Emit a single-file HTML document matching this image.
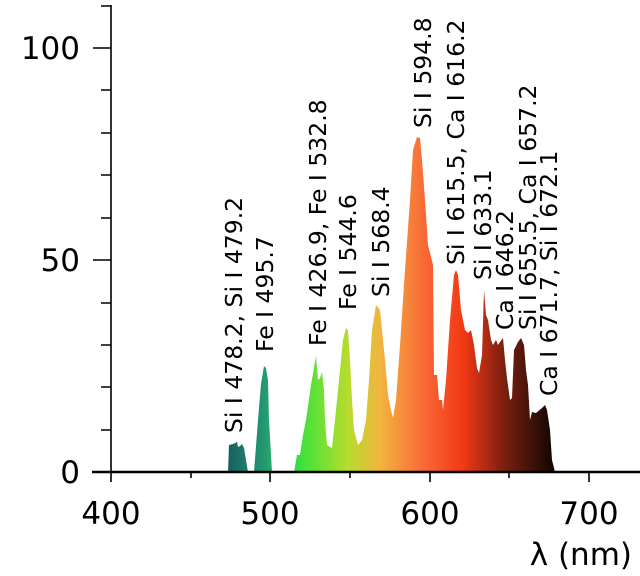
<!DOCTYPE html><html><head><meta charset="utf-8"><style>body{margin:0;background:#fff}svg{display:block}</style></head><body>
<svg width="640" height="576" viewBox="0 0 640 576" xmlns="http://www.w3.org/2000/svg" font-family="DejaVu Sans, Liberation Sans, sans-serif">
<defs><linearGradient id="g" gradientUnits="userSpaceOnUse" x1="225" y1="0" x2="556" y2="0">
<stop offset="0" stop-color="#175a5e"/><stop offset="0.12" stop-color="#239a72"/><stop offset="0.23" stop-color="#3ee23c"/><stop offset="0.37" stop-color="#b6dc2c"/><stop offset="0.47" stop-color="#f2b43e"/><stop offset="0.6" stop-color="#f86a38"/><stop offset="0.72" stop-color="#f23814"/><stop offset="0.84" stop-color="#7e2010"/><stop offset="0.95" stop-color="#2e0e06"/><stop offset="1" stop-color="#0e0402"/></linearGradient></defs>
<polygon fill="url(#g)" points="228,472 229,445 233,444 237,442 238,447 240,446 242,444 244,448 246,460 248,472 254,472 258,420 261,384 264,366 266,368 268,380 269,420 272,472 294,472 297,455 300,455 303,435 306,420 311,385 316,356 318,380 320,378 322,372 324,390 325,420 327,445 332,448 335,420 339,380 343,340 346,328 348,330 350,360 352,400 354,430 358,445 362,440 366,420 369,380 372,330 376,305 380,310 382,330 385,360 388,395 391,410 393,418 396,400 400,345 405,270 410,200 413,150 417,137 420,138 422,160 425,200 428,245 433,265 434,375 437,375 439,400 442,400 443,410 446,380 450,320 454,275 456,270 458,275 461,310 465,330 468,333 471,330 474,345 477,368 479,373 482,355 484,290 486,315 488,320 491,340 493,345 496,340 498,345 500,342 503,338 505,360 507,378 510,400 512,398 514,350 518,342 521,338 524,345 526,370 528,385 530,420 532,412 536,413 542,408 545,405 547,410 550,430 552,460 555,472"/>
<g stroke="#000" fill="none">
<line x1="111" y1="5" x2="111" y2="473" stroke-width="1.6"/>
<line x1="92" y1="472" x2="640" y2="472" stroke-width="2.6"/>
<path d="M111,472v10M270,472v10M430,472v10M589,472v10M191,472v6M350,472v6M509,472v6" stroke-width="1.6"/>
<path d="M93,472h18M93,260h18M93,48h18" stroke-width="1.6"/>
<path d="M101,430h10M101,387h10M101,345h10M101,303h10M101,218h10M101,175h10M101,133h10M101,90h10M101,6h10" stroke-width="1.4"/>
</g>
<g font-size="31" text-anchor="middle" fill="#000">
<text x="111" y="524">400</text><text x="270" y="524">500</text><text x="430" y="524">600</text><text x="589" y="524">700</text>
<text x="80" y="483" text-anchor="end">0</text><text x="80" y="271" text-anchor="end">50</text><text x="80" y="59" text-anchor="end">100</text>
<text x="632" y="565" text-anchor="end">λ (nm)</text>
</g>
<g font-size="23.5" fill="#000">
<text transform="translate(242,433) rotate(-90)">Si I 478.2, Si I 479.2</text>
<text transform="translate(273,352) rotate(-90)">Fe I 495.7</text>
<text transform="translate(326,346) rotate(-90)">Fe I 426.9, Fe I 532.8</text>
<text transform="translate(356,310) rotate(-90)">Fe I 544.6</text>
<text transform="translate(389,297) rotate(-90)">Si I 568.4</text>
<text transform="translate(431,128) rotate(-90)">Si I 594.8</text>
<text transform="translate(464,265) rotate(-90)">Si I 615.5, Ca I 616.2</text>
<text transform="translate(491,280) rotate(-90)">Si I 633.1</text>
<text transform="translate(513,330) rotate(-90)">Ca I 646.2</text>
<text transform="translate(536,330) rotate(-90)">Si I 655.5, Ca I 657.2</text>
<text transform="translate(557,396) rotate(-90)">Ca I 671.7, Si I 672.1</text>
</g>
</svg></body></html>
